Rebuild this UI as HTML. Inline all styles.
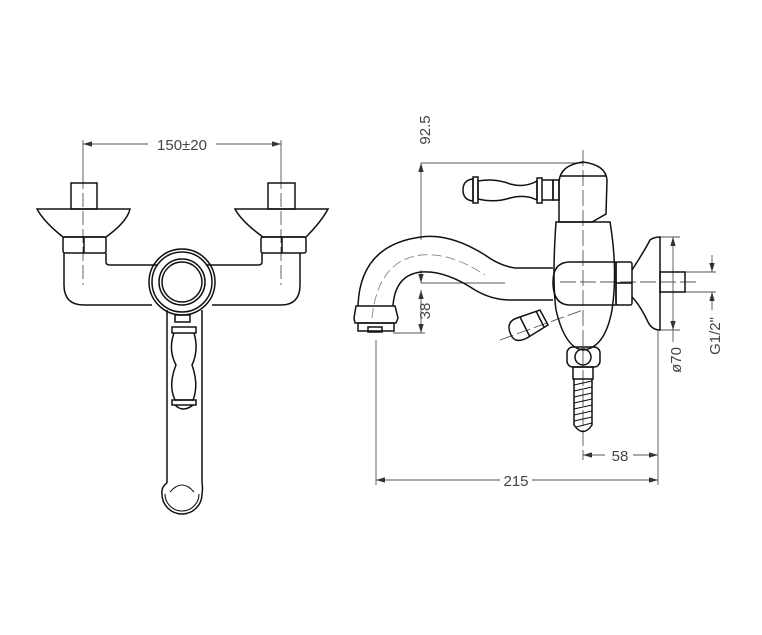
<!DOCTYPE html>
<html><head><meta charset="utf-8"><style>
html,body{margin:0;padding:0;background:#fff}
svg{display:block}
text{font-family:"Liberation Sans",sans-serif;font-size:15px;fill:#444}
</style></head><body>
<svg width="762" height="635" viewBox="0 0 762 635" xmlns="http://www.w3.org/2000/svg">
<defs>
<marker id="a" markerWidth="10" markerHeight="6" refX="10" refY="3" orient="auto-start-reverse"><path d="M0,0 L10,3 L0,6 z" fill="#333"/></marker>
</defs>
<!-- LEFT VIEW -->
<g fill="none" stroke="#555" stroke-width="0.9">
<line x1="83" y1="144" x2="148" y2="144" marker-start="url(#a)"/>
<line x1="216" y1="144" x2="281" y2="144" marker-end="url(#a)"/>
<line x1="83" y1="140" x2="83" y2="175"/>
<line x1="281" y1="140" x2="281" y2="175"/>
<line x1="83" y1="175" x2="83" y2="285" stroke-dasharray="14,4"/>
<line x1="281" y1="175" x2="281" y2="285" stroke-dasharray="14,4"/>
</g>
<text x="182" y="150" text-anchor="middle">150±20</text>
<g fill="none" stroke="#111" stroke-width="1.5">
<rect x="71" y="183" width="26" height="26"/>
<rect x="268" y="183" width="27" height="26"/>
<path d="M37,209 H130 Q127,222 106,237 H63 Q44,222 37,209 Z"/>
<path d="M235,209 H328 Q321,222 306,237 H263 Q242,222 235,209 Z"/>
<rect x="63" y="237" width="43" height="16" rx="2"/>
<line x1="84" y1="237" x2="84" y2="253"/>
<rect x="261" y="237" width="45" height="16" rx="2"/>
<line x1="282" y1="237" x2="282" y2="253"/>
<path d="M64,253 V285 Q64,305 84,305 H152"/>
<path d="M212,305 H281 Q300,305 300,285 V253"/>
<path d="M106,253 V262 Q106,265 110,265 H158"/>
<path d="M206,265 H258 Q262,265 262,262 V253"/>
<circle cx="182" cy="282" r="33"/>
<circle cx="182" cy="282" r="30"/>
<circle cx="182" cy="282" r="23"/>
<circle cx="182" cy="282" r="20"/>
<path d="M167,310 V483 M202,310 V483"/>
<path d="M167,483 Q161,487 162,494 A20,20 0 0 0 202,494 Q203,487 202,483"/>
<path d="M165,494 A17,17 0 0 0 199,494" stroke-width="1.1"/>
<path d="M170,492 Q182,478 194,492" stroke-width="1.1"/>
<path d="M175,315 H190 V322 H175 Z"/>
<path d="M172,327 H196 V333 H172 Z"/>
<path d="M174,333 Q168,350 176,365 Q168,385 175,400 H193 Q199,385 192,365 Q199,350 194,333"/>
<path d="M172,400 H196 V405 H172 Z"/>
<path d="M175,405 Q183,413 193,405"/>
</g>
<!-- RIGHT VIEW -->
<g fill="none" stroke="#555" stroke-width="0.9">
<line x1="421" y1="163" x2="421" y2="240" marker-start="url(#a)"/>
<line x1="421" y1="270" x2="421" y2="283" marker-end="url(#a)"/>
<line x1="421" y1="290" x2="421" y2="333" marker-start="url(#a)" marker-end="url(#a)"/>
<line x1="421" y1="163" x2="583" y2="163"/>
<line x1="393" y1="333" x2="425" y2="333"/>
<line x1="421" y1="283" x2="505" y2="283"/>
<line x1="583" y1="150" x2="583" y2="460" stroke-dasharray="16,4"/>
<line x1="376" y1="340" x2="376" y2="485"/>
<line x1="658" y1="330" x2="658" y2="485"/>
<line x1="583" y1="455" x2="605" y2="455" marker-start="url(#a)"/>
<line x1="633" y1="455" x2="658" y2="455" marker-end="url(#a)"/>
<line x1="376" y1="480" x2="500" y2="480" marker-start="url(#a)"/>
<line x1="532" y1="480" x2="658" y2="480" marker-end="url(#a)"/>
<line x1="660" y1="237" x2="680" y2="237"/>
<line x1="660" y1="330" x2="680" y2="330"/>
<line x1="673" y1="237" x2="673" y2="330" marker-start="url(#a)" marker-end="url(#a)"/>
<line x1="673" y1="330" x2="673" y2="342"/>
<line x1="685" y1="272" x2="716" y2="272"/>
<line x1="685" y1="292" x2="716" y2="292"/>
<line x1="712" y1="255" x2="712" y2="272" marker-end="url(#a)"/>
<line x1="712" y1="310" x2="712" y2="292" marker-end="url(#a)"/>
<line x1="560" y1="282" x2="700" y2="282" stroke-dasharray="16,4"/>
<path d="M372,318 Q378,260 421,255 Q450,252 485,275" stroke-dasharray="10,4" stroke="#888"/>
<line x1="500" y1="340" x2="583" y2="310" stroke-dasharray="14,4"/>
</g>
<text transform="translate(430,130) rotate(-90)" text-anchor="middle">92.5</text>
<text transform="translate(430,311) rotate(-90)" text-anchor="middle">38</text>
<text transform="translate(681,360) rotate(-90)" text-anchor="middle">ø70</text>
<text transform="translate(720,336) rotate(-90)" text-anchor="middle">G1/2"</text>
<text x="620" y="461" text-anchor="middle">58</text>
<text x="516" y="486" text-anchor="middle">215</text>
<g fill="none" stroke="#111" stroke-width="1.5">
<path d="M358,306 Q360,245 421,237 Q450,233 485,255 Q500,266 515,268 H553"/>
<path d="M393,306 Q395,275 421,272 Q445,270 475,290 Q492,300 510,300 H553"/>
<path d="M356,306 H395 L398,318 L396,323 H355 L354,318 Z"/>
<path d="M358,323 H394 V331 H358 Z"/>
<rect x="368" y="327" width="14" height="5"/>
<path d="M556,222 Q552,280 556,310 Q565,348 583,350 Q605,348 612,310 Q618,270 610,222 Z"/>
<path d="M553,282 Q553,262 570,262 H616 V305 H570 Q553,305 553,282 Z"/>
<path d="M559,222 V182 Q560,165 583,162 Q606,165 607,180 L606,214 L592,222 Z"/>
<line x1="561" y1="176" x2="606" y2="176"/>
<path d="M553,180 H559 V200 H553 Z"/>
<path d="M473,179 Q463,180 463,190 Q463,200 473,201 Z"/>
<rect x="473" y="177" width="5" height="26"/>
<path d="M478,181 Q495,178 510,184 Q525,188 537,181 V200 Q525,194 510,198 Q495,203 478,199 Z"/>
<rect x="537" y="178" width="5" height="25"/>
<path d="M542,180 H553 V200 H542"/>
<rect x="616" y="262" width="16" height="43" rx="2"/>
<line x1="616" y1="283" x2="632" y2="283"/>
<path d="M632,270 Q645,250 650,240 Q654,237 660,237 V330 Q652,330 648,322 Q640,305 632,297"/>
<rect x="660" y="272" width="25" height="20"/>
<path d="M511,335 Q505,322 517,318 L540,310 L548,325 L527,338 Q515,344 511,335 Z"/>
<line x1="520" y1="317" x2="530" y2="337"/>
<line x1="536" y1="311" x2="544" y2="327"/>
<rect x="567" y="347" width="33" height="20" rx="6"/>
<circle cx="583" cy="357" r="8"/>
<rect x="573" y="367" width="20" height="12"/>
<path d="M574,379 V425 Q583,438 592,425 V379"/>
<path d="M574,385 L592,381 M574,391 L592,387 M574,397 L592,393 M574,403 L592,399 M574,409 L592,405 M574,415 L592,411 M574,421 L592,417 M576,427 L592,423" stroke-width="1.1"/>
</g>
</svg>
</body></html>
